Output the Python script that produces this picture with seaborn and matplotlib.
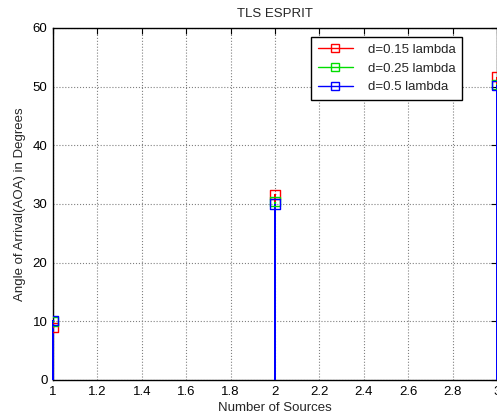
import numpy as np
import pandas as pd
import matplotlib
matplotlib.use("Agg")
import matplotlib.pyplot as plt
import seaborn as sns
from matplotlib.legend_handler import HandlerLine2D
from matplotlib.lines import Line2D

# values
sources = [1, 2, 3]
aoa_015 = [9.0, 31.7, 51.7]
aoa_025 = [10.0, 30.4, 50.4]
aoa_05 = [10.2, 30.0, 50.2]
labels = ["d=0.15 lambda", "d=0.25 lambda", "d=0.5 lambda"]
colors = ["#ff0000", "#00dd00", "#0000ff"]

sns.set_style("white")
plt.rcParams["font.family"] = ["Liberation Sans", "DejaVu Sans"]
fs = 9.5

fig = plt.figure(figsize=(4.97, 4.17), dpi=100)
ax = fig.add_axes([53 / 497, 37 / 417, 444 / 497, 352 / 417])

series = [aoa_015, aoa_025, aoa_05]
for vals, lab, col in zip(series, labels, colors):
    df = pd.DataFrame({"src": sources, "aoa": vals})
    ax.vlines(df["src"], 0, df["aoa"], color=col, linewidth=1.3,
              antialiased=False, clip_on=False, zorder=3)
    sns.scatterplot(data=df, x="src", y="aoa", marker="s", s=42,
                    facecolor="none", edgecolor=col, linewidth=1, ax=ax,
                    zorder=4)
    sns.scatterplot(data=df, x="src", y="aoa", marker=".", s=5,
                    color=col, edgecolor=col, linewidth=0, ax=ax, zorder=4)

ticks_x = np.round(np.arange(1, 3.01, 0.2), 1)
ax.set_xlim(1, 3)
ax.set_ylim(0, 60)
ax.set_xticks(ticks_x)
ax.set_xticklabels([f"{t:g}" for t in ticks_x])
ax.set_yticks(range(0, 61, 10))
ax.grid(True, linestyle=":", color="#808080", linewidth=0.8)
ax.tick_params(direction="in", length=4, top=True, right=True, colors="black",
               labelsize=fs, pad=4)
for sp in ax.spines.values():
    sp.set_color("black")
    sp.set_linewidth(1)

ax.set_title("TLS ESPRIT", fontsize=fs, pad=8)
ax.set_xlabel("Number of Sources", fontsize=fs, labelpad=3)
ax.set_ylabel("Angle of Arrival(AOA) in Degrees", fontsize=fs, labelpad=5)


class EndMarker(HandlerLine2D):
    def get_xdata(self, legend, xdescent, ydescent, width, height, fontsize):
        xdata = np.array([-xdescent, -xdescent + width])
        return xdata, np.array([-xdescent + width])


handles = [Line2D([], [], color=c, marker="s", markerfacecolor="none",
                  markeredgecolor=c, markersize=6.3, linewidth=1) for c in colors]
leg = ax.legend(handles, labels, loc="upper right",
                bbox_to_anchor=(462 / 497, 1 - 37 / 417),
                bbox_transform=fig.transFigure, fancybox=False, framealpha=1,
                edgecolor="black", handlelength=2.7, handletextpad=1.1,
                borderpad=0.5, labelspacing=0.5, fontsize=fs,
                borderaxespad=0, handler_map={Line2D: EndMarker()})
leg.get_frame().set_linewidth(1)
leg.set_zorder(10)

fig.savefig("out.png", dpi=100)
